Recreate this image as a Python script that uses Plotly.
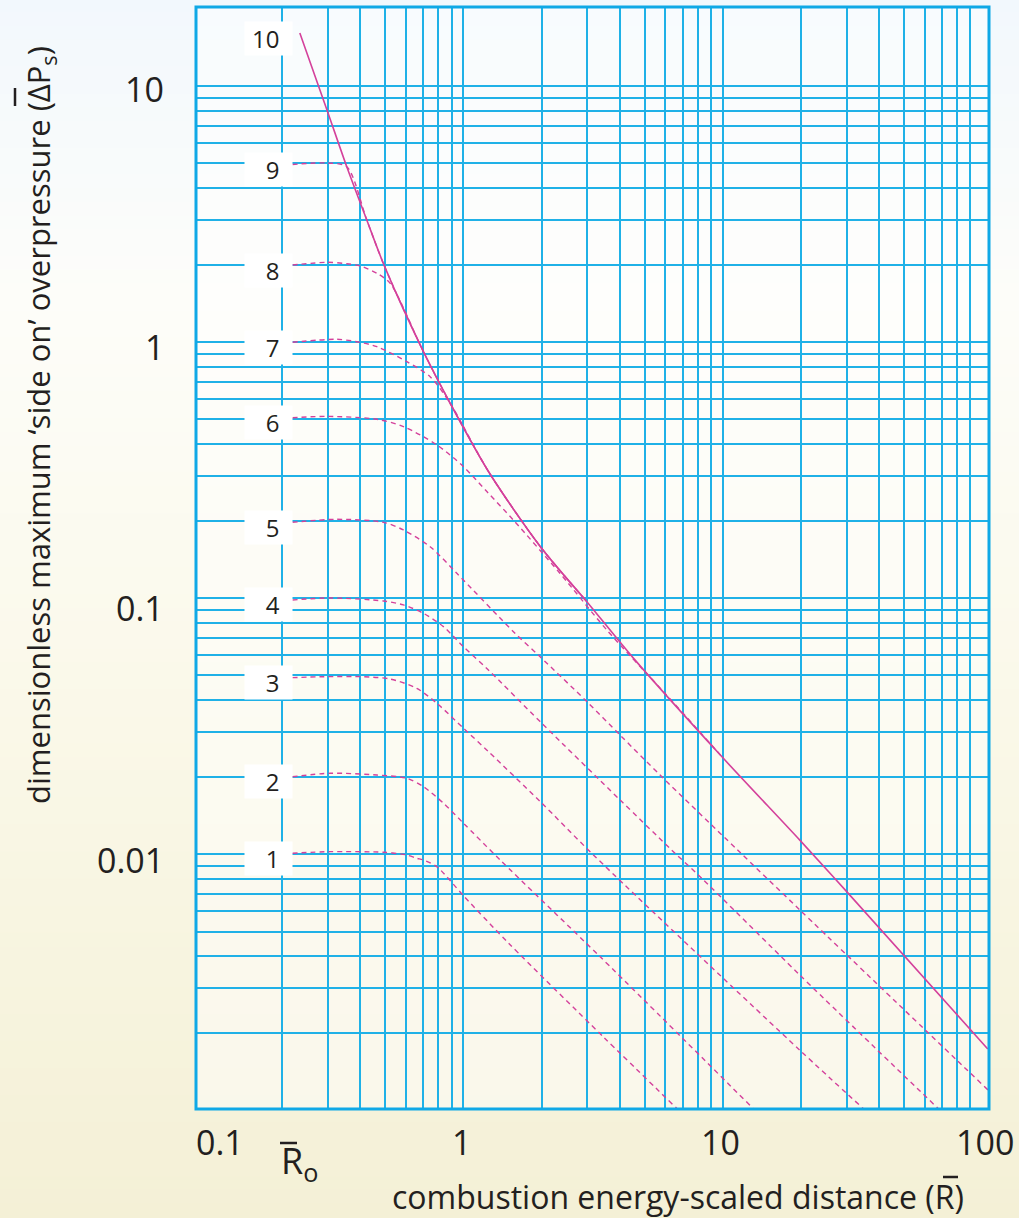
import math
import plotly.graph_objects as go

# ---------------- data ----------------
curve_labels = ["1", "2", "3", "4", "5", "6", "7", "8", "9", "10"]

r1 = [0.219, 0.306, 0.492, 0.605, 0.661, 0.701, 0.790, 1.0, 1.5, 3.46, 6.64]
p1 = [0.0101, 0.01025, 0.01019, 0.00995, 0.00966, 0.00951, 0.00895, 0.0069, 0.00448, 0.00194, 0.00102]

r2 = [0.219, 0.306, 0.464, 0.605, 0.701, 0.837, 1.0, 1.385, 3.36, 13.2]
p2 = [0.0201, 0.02074, 0.02042, 0.01982, 0.01838, 0.01585, 0.01324, 0.00951, 0.00399, 0.00101]

r3 = [0.219, 0.289, 0.412, 0.522, 0.661, 0.790, 1.0, 1.248, 1.975, 3.17, 19.8, 34.7]
p3 = [0.0490, 0.0494, 0.0494, 0.0484, 0.0445, 0.0389, 0.0311, 0.0252, 0.0161, 0.00995, 0.00172, 0.00102]

r4 = [0.219, 0.306, 0.492, 0.587, 0.701, 0.837, 1.0, 1.248, 1.975, 4.02, 6.35, 8.29, 19.8, 67.5]
p4 = [0.0985, 0.1003, 0.0976, 0.0942, 0.0874, 0.0775, 0.0647, 0.0525, 0.033, 0.0163, 0.0104, 0.00807, 0.00338, 0.00102]

r5 = [0.219, 0.325, 0.492, 0.587, 0.744, 0.943, 1.558, 1.975, 2.99, 4.02, 5.73, 11.4, 19.8, 105.5]
p5 = [0.198, 0.2034, 0.198, 0.1848, 0.159, 0.1252, 0.0741, 0.0591, 0.0395, 0.0292, 0.0204, 0.0104, 0.00607, 0.0012]

r6 = [0.219, 0.30, 0.464, 0.587, 0.79, 1.0, 1.231, 1.558, 2.358, 3.57, 5.90, 8.17, 9.9]
p6 = [0.507, 0.513, 0.500, 0.468, 0.397, 0.3265, 0.261, 0.202, 0.125, 0.0752, 0.0432, 0.0300, 0.0241]

r7 = [0.219, 0.325, 0.388, 0.464, 0.605, 0.744, 0.889, 1.25, 1.98, 2.99]
p7 = [0.999, 1.026, 1.004, 0.960, 0.839, 0.733, 0.577, 0.312, 0.159, 0.097]

r8 = [0.219, 0.298, 0.355, 0.400, 0.464, 0.522, 0.701, 0.889, 1.25, 1.98, 2.99]
p8 = [2.00, 2.05, 2.025, 1.984, 1.857, 1.697, 0.918, 0.577, 0.312, 0.159, 0.097]

r9 = [0.219, 0.298, 0.355, 0.424, 0.496, 0.701, 0.889, 1.25, 1.98, 2.99]
p9 = [4.94, 5.006, 4.84, 3.0, 1.98, 0.918, 0.577, 0.312, 0.159, 0.097]

r10 = [0.234, 0.298, 0.355, 0.424, 0.496, 0.701, 0.889, 1.25, 1.98, 2.99, 4.52, 9.9, 19.8, 29.9, 105]
p10 = [16.1, 8.05, 4.84, 3.0, 1.98, 0.918, 0.577, 0.312, 0.159, 0.097, 0.0584, 0.0241, 0.01137, 0.00719, 0.00174]

x_grid = [0.2, 0.3, 0.4, 0.5, 0.6, 0.7, 0.8, 0.9, 1, 2, 3, 4, 5, 6, 7, 8, 9, 10,
          20, 30, 40, 50, 60, 70, 80, 90]
y_grid = [0.002, 0.003, 0.004, 0.005, 0.006, 0.007, 0.008, 0.009, 0.01,
          0.02, 0.03, 0.04, 0.05, 0.06, 0.07, 0.08, 0.09, 0.1,
          0.2, 0.3, 0.4, 0.5, 0.6, 0.7, 0.8, 0.9, 1,
          2, 3, 4, 5, 6, 7, 8, 9, 10]
x_tick_vals = [0.1, 1, 10, 100]
x_tick_text = ["0.1", "1", "10", "100"]
y_tick_vals = [10, 1, 0.1, 0.01, 0.001]
y_tick_text = ["10", "1", "0.1", "0.01", "0.001"]

# ---------------- styling ----------------
W, H = 1019, 1218
ML, MR, MT, MB = 196, 30, 7, 109
PW, PH = W - ML - MR, H - MT - MB
FONT = "Open Sans"
TXT = "#231f20"
MAG = "#d4419b"
GRID = "#1fb1e7"
BORDER = "#0fa8e6"

def px2paper_x(px):
    return (px - ML) / PW

def py2paper_y(py):
    return (MT + PH - py) / PH

fig = go.Figure()

series = [(r1, p1), (r2, p2), (r3, p3), (r4, p4), (r5, p5),
          (r6, p6), (r7, p7), (r8, p8), (r9, p9)]
for (rr, pp), lab in zip(series, curve_labels[:9]):
    fig.add_trace(go.Scatter(x=rr, y=pp, mode="lines", name=lab,
                             line=dict(color=MAG, width=1.4, dash="5px,4px", shape="spline", smoothing=0.8),
                             hoverinfo="skip", showlegend=False))
fig.add_trace(go.Scatter(x=r10, y=p10, mode="lines", name="10",
                         line=dict(color=MAG, width=1.6, shape="spline", smoothing=0.8),
                         hoverinfo="skip", showlegend=False))

# background gradient bands
def lerp(c1, c2, t):
    return tuple(int(round(a + (b - a) * t)) for a, b in zip(c1, c2))

stops = [(0.0, (242, 248, 253)), (0.25, (253, 253, 249)), (0.6, (250, 248, 232)), (1.0, (244, 240, 214))]
def color_at(f):
    for (f0, c0), (f1, c1) in zip(stops[:-1], stops[1:]):
        if f <= f1:
            return lerp(c0, c1, (f - f0) / (f1 - f0))
    return stops[-1][1]

shapes = []
NB = 90
for i in range(NB):
    f0 = i / NB
    f1 = (i + 1) / NB
    c = color_at((f0 + f1) / 2)
    shapes.append(dict(type="rect", xref="paper", yref="paper", layer="below",
                       x0=px2paper_x(0), x1=px2paper_x(W),
                       y0=py2paper_y(f1 * H) - 0.001, y1=py2paper_y(f0 * H) + 0.001,
                       line=dict(width=0), fillcolor="rgb(%d,%d,%d)" % c))
# lighter plot area
shapes.append(dict(type="rect", xref="paper", yref="paper", layer="below",
                   x0=0, x1=1, y0=0, y1=1, line=dict(width=0),
                   fillcolor="rgba(255,255,255,0.45)"))
# border
shapes.append(dict(type="rect", xref="paper", yref="paper", layer="above",
                   x0=0, x1=1, y0=0, y1=1, line=dict(color=BORDER, width=3)))
# overbars
def hbar(x0, x1, y):
    shapes.append(dict(type="line", xref="paper", yref="paper", layer="above",
                       x0=px2paper_x(x0), x1=px2paper_x(x1), y0=py2paper_y(y), y1=py2paper_y(y),
                       line=dict(color=TXT, width=2.5)))
def vbar(x, y0, y1):
    shapes.append(dict(type="line", xref="paper", yref="paper", layer="above",
                       x0=px2paper_x(x), x1=px2paper_x(x), y0=py2paper_y(y0), y1=py2paper_y(y1),
                       line=dict(color=TXT, width=2.5)))
hbar(280, 297, 1143)   # R0 bar
hbar(943, 958, 1177)   # R bar in x title
vbar(15, 88, 106)      # bar in y title

annotations = []
# curve labels in white boxes
first_p = [p1[0], p2[0], p3[0], p4[0], p5[0], p6[0], p7[0], p8[0], p9[0], p10[0]]
for lab, pv in zip(curve_labels, first_p):
    annotations.append(dict(xref="paper", yref="y", x=px2paper_x(268.5), y=math.log10(pv),
                            yshift=-5, xanchor="center", yanchor="middle",
                            text=lab + "\u00a0\u00a0", showarrow=False, width=47, height=33,
                            align="right", bgcolor="white", borderpad=0,
                            font=dict(family=FONT, size=24, color=TXT)))
# x tick labels
x_shift = [16, -2, -2, 3]
for v, t, s in zip(x_tick_vals, x_tick_text, x_shift):
    annotations.append(dict(xref="x", yref="paper", x=math.log10(v), y=py2paper_y(1142),
                            xshift=s, xanchor="center", yanchor="middle", text=t, showarrow=False,
                            font=dict(family=FONT, size=34, color=TXT)))
# y tick labels
y_shift = [-2.5, -5, -10, -5.5, 1.5]
for v, t, s in zip(y_tick_vals, y_tick_text, y_shift):
    annotations.append(dict(xref="paper", yref="y", x=px2paper_x(166), y=math.log10(v),
                            yshift=s, xanchor="right", yanchor="middle", text=t, showarrow=False,
                            font=dict(family=FONT, size=34, color=TXT)))
# R0 label
annotations.append(dict(xref="paper", yref="paper", x=px2paper_x(279), y=py2paper_y(1162),
                        xanchor="left", yanchor="middle", text="R<sub>o</sub>", showarrow=False,
                        font=dict(family=FONT, size=36, color=TXT)))
# axis titles
annotations.append(dict(xref="paper", yref="paper", x=px2paper_x(678), y=py2paper_y(1196),
                        xanchor="center", yanchor="middle",
                        text="combustion energy-scaled distance (R)", showarrow=False,
                        font=dict(family=FONT, size=32, color=TXT)))
annotations.append(dict(xref="paper", yref="paper", x=px2paper_x(40), y=py2paper_y(425),
                        xanchor="center", yanchor="middle", textangle=-90,
                        text="dimensionless maximum \u2018side on\u2019 overpressure (\u0394P<sub>s</sub>)",
                        showarrow=False, font=dict(family=FONT, size=31, color=TXT)))

fig.update_layout(
    width=W, height=H, autosize=False,
    margin=dict(l=ML, r=MR, t=MT, b=MB, pad=0),
    paper_bgcolor="rgb(250,249,240)", plot_bgcolor="rgba(0,0,0,0)",
    shapes=shapes, annotations=annotations, showlegend=False,
    xaxis=dict(type="log", range=[-1.031, 2.026], tickvals=x_grid, showticklabels=False,
               ticks="", showgrid=True, gridcolor=GRID, gridwidth=1.6, zeroline=False,
               showline=False, fixedrange=True),
    yaxis=dict(type="log", range=[-2.994, 1.3086], tickvals=y_grid, showticklabels=False,
               ticks="", showgrid=True, gridcolor=GRID, gridwidth=1.6, zeroline=False,
               showline=False, fixedrange=True),
)

fig.write_html("out.html", config={"displayModeBar": False},
               post_script="document.body.style.margin='0px';document.body.style.overflow='hidden';")
